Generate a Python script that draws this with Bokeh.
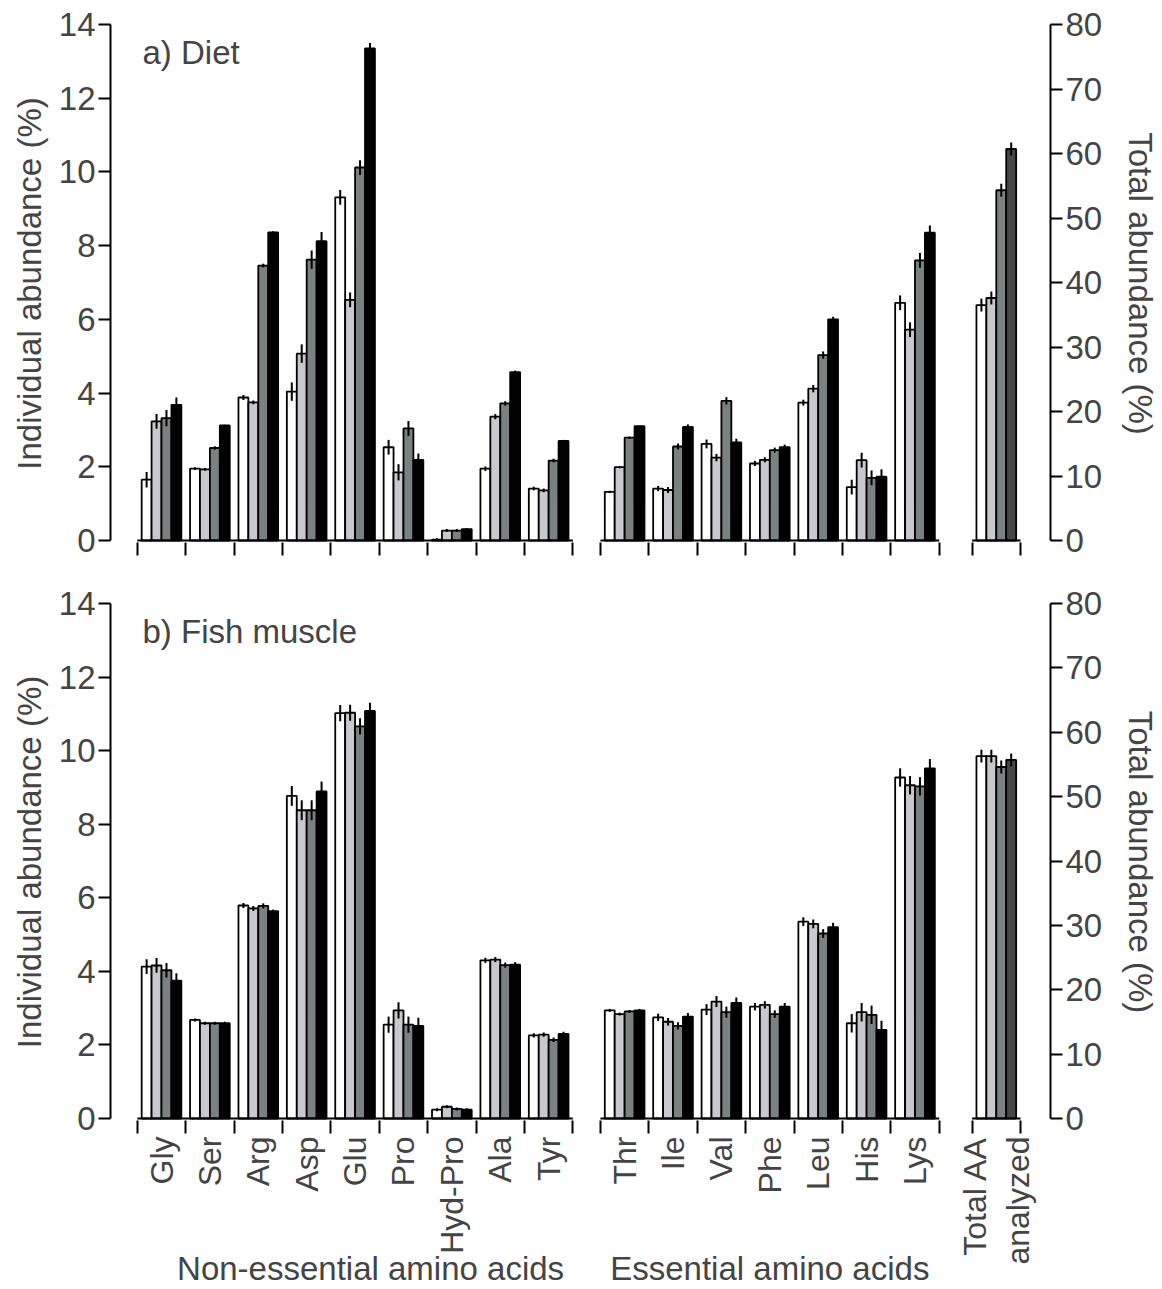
import math
from bokeh.plotting import figure
from bokeh.layouts import column
from bokeh.models import (ColumnDataSource, Range1d, LinearAxis, FixedTicker,
                          Label, CustomJSTickFormatter)
from bokeh.embed import file_html
from bokeh.resources import INLINE

# ---------------- data ----------------
nonessential = ["Gly", "Ser", "Arg", "Asp", "Glu", "Pro", "Hyd-Pro", "Ala", "Tyr"]
essential = ["Thr", "Ile", "Val", "Phe", "Leu", "His", "Lys"]
total_label = "Total AA\nanalyzed"
group_titles = ["Non-essential amino acids", "Essential amino acids"]
panel_titles = ["a) Diet", "b) Fish muscle"]

# individual abundance (%), order: nonessential + essential
diet_1 = [1.65, 1.95, 3.88, 4.04, 9.31, 2.53, 0.02, 1.95, 1.41,
          1.32, 1.41, 2.62, 2.09, 3.74, 1.45, 6.45]
diet_2 = [3.23, 1.93, 3.75, 5.07, 6.53, 1.85, 0.27, 3.36, 1.36,
          1.99, 1.37, 2.25, 2.19, 4.12, 2.18, 5.72]
diet_3 = [3.32, 2.51, 7.46, 7.62, 10.12, 3.04, 0.27, 3.72, 2.17,
          2.79, 2.55, 3.79, 2.45, 5.03, 1.70, 7.60]
diet_4 = [3.68, 3.12, 8.36, 8.12, 13.35, 2.19, 0.31, 4.57, 2.70,
          3.10, 3.08, 2.66, 2.53, 6.00, 1.73, 8.35]
diet_1_err = [0.21, 0.04, 0.07, 0.25, 0.20, 0.20, 0.04, 0.06, 0.05,
              0.03, 0.07, 0.12, 0.07, 0.08, 0.20, 0.20]
diet_2_err = [0.20, 0.04, 0.05, 0.25, 0.20, 0.22, 0.04, 0.07, 0.05,
              0.03, 0.08, 0.10, 0.07, 0.10, 0.20, 0.20]
diet_3_err = [0.22, 0.05, 0.05, 0.25, 0.20, 0.20, 0.04, 0.06, 0.05,
              0.03, 0.08, 0.10, 0.07, 0.10, 0.20, 0.20]
diet_4_err = [0.20, 0.02, 0.03, 0.25, 0.15, 0.17, 0.03, 0.04, 0.03,
              0.02, 0.07, 0.10, 0.07, 0.07, 0.20, 0.20]
diet_total = [36.5, 37.6, 54.3, 60.7]
diet_total_err = [1.0, 1.0, 1.0, 1.0]

fish_1 = [4.13, 2.68, 5.79, 8.77, 11.02, 2.55, 0.24, 4.30, 2.26,
          2.94, 2.75, 2.96, 3.04, 5.35, 2.59, 9.27]
fish_2 = [4.16, 2.59, 5.71, 8.38, 11.03, 2.94, 0.32, 4.32, 2.28,
          2.84, 2.63, 3.18, 3.09, 5.29, 2.89, 9.06]
fish_3 = [4.03, 2.59, 5.78, 8.38, 10.66, 2.55, 0.26, 4.17, 2.14,
          2.91, 2.52, 2.89, 2.84, 5.03, 2.82, 9.03]
fish_4 = [3.75, 2.59, 5.64, 8.89, 11.08, 2.52, 0.24, 4.18, 2.30,
          2.94, 2.77, 3.14, 3.04, 5.20, 2.41, 9.52]
fish_1_err = [0.20, 0.04, 0.07, 0.27, 0.22, 0.22, 0.04, 0.07, 0.06,
              0.04, 0.10, 0.15, 0.10, 0.12, 0.25, 0.25]
fish_2_err = [0.20, 0.04, 0.07, 0.27, 0.22, 0.22, 0.04, 0.07, 0.06,
              0.04, 0.10, 0.15, 0.10, 0.12, 0.25, 0.25]
fish_3_err = [0.20, 0.04, 0.07, 0.27, 0.22, 0.22, 0.04, 0.07, 0.06,
              0.04, 0.10, 0.15, 0.10, 0.12, 0.25, 0.25]
fish_4_err = [0.20, 0.04, 0.04, 0.27, 0.22, 0.22, 0.04, 0.07, 0.06,
              0.04, 0.10, 0.15, 0.10, 0.12, 0.25, 0.25]
fish_total = [56.3, 56.3, 54.6, 55.7]
fish_total_err = [1.0, 1.0, 1.0, 1.0]

series_colors = ["#ffffff", "#c8c9cd", "#7b8080", "#000000"]
total_colors = ["#ffffff", "#c8c9cd", "#7b8080", "#474747"]

left_ticks = [0, 2, 4, 6, 8, 10, 12, 14]
right_ticks = [0, 10, 20, 30, 40, 50, 60, 70, 80]

# ---------------- layout constants ----------------
FONT = "Liberation Sans"
W = 1162
GAP1 = 0.57
GAP2 = 0.68
BAR_W = 0.205
offsets = [(k - 1.5) * BAR_W for k in range(4)]

n_ne, n_e = len(nonessential), len(essential)
ess_start = n_ne + GAP1
starts = [float(i) for i in range(n_ne)] + [ess_start + j for j in range(n_e)]
centers = [s + 0.5 for s in starts]
total_start = ess_start + n_e + GAP2
total_center = total_start + 0.5
boundaries = ([float(i) for i in range(n_ne + 1)] +
              [ess_start + j for j in range(n_e + 1)] +
              [total_start, total_start + 1])
base_x0 = [0.0, ess_start, total_start]
base_x1 = [float(n_ne), ess_start + n_e, total_start + 1]
group_pos = [4.82, ess_start + n_e / 2]

YMAX = 14.0
YMIN = -0.054
TMAX = 80.0
TMIN = YMIN * TMAX / YMAX

LOOKUP = """
for (let i = 0; i < pos.length; i++) {
    if (Math.abs(pos[i] - tick) < 1e-6) { return names[i]; }
}
return "";
"""


def make_panel(series, errs, tot, tot_err, title, show_labels,
               height, mb_top, mb_bottom):
    p = figure(width=W, height=height, output_backend="svg",
               toolbar_location=None, tools="",
               x_range=Range1d(-0.554, 18.87),
               y_range=Range1d(YMIN, YMAX),
               min_border_left=110, min_border_right=112,
               min_border_top=mb_top, min_border_bottom=mb_bottom)
    p.extra_y_ranges = {"total": Range1d(TMIN, TMAX)}
    p.outline_line_color = None
    p.xgrid.visible = False
    p.ygrid.visible = False
    p.background_fill_color = "white"
    p.border_fill_color = "white"

    # bars
    for k in range(4):
        xs = [c + offsets[k] for c in centers]
        src = ColumnDataSource(dict(x=xs, top=series[k],
                                    lo=[v - e for v, e in zip(series[k], errs[k])],
                                    hi=[v + e for v, e in zip(series[k], errs[k])]))
        p.vbar(x="x", top="top", bottom=0, width=BAR_W, source=src,
               fill_color=series_colors[k], line_color="black", line_width=1.8)
        p.segment(x0="x", y0="lo", x1="x", y1="hi", source=src,
                  line_color="black", line_width=2)
    # total bars on right axis
    tsrc = ColumnDataSource(dict(x=[total_center + o for o in offsets], top=tot,
                                 lo=[v - e for v, e in zip(tot, tot_err)],
                                 hi=[v + e for v, e in zip(tot, tot_err)],
                                 color=total_colors))
    p.vbar(x="x", top="top", bottom=0, width=BAR_W, source=tsrc,
           fill_color="color", line_color="black", line_width=1.8,
           y_range_name="total")
    p.segment(x0="x", y0="lo", x1="x", y1="hi", source=tsrc,
              line_color="black", line_width=2, y_range_name="total")

    # baseline segments (x-axis line, broken between blocks)
    p.segment(x0=base_x0, y0=[0, 0, 0], x1=base_x1, y1=[0, 0, 0],
              line_color="black", line_width=2)

    # left axis
    ya = p.yaxis[0]
    ya.ticker = FixedTicker(ticks=left_ticks)
    ya.bounds = (0, YMAX)
    ya.axis_label = "Individual abundance (%)"
    ya.axis_label_text_font = FONT
    ya.axis_label_text_font_size = "33px"
    ya.axis_label_text_font_style = "normal"
    ya.axis_label_standoff = 8
    ya.major_label_text_font = FONT
    ya.major_label_text_font_size = "33px"
    ya.major_label_standoff = 3
    ya.major_tick_out = 12
    ya.major_tick_in = 0
    ya.minor_tick_out = 0
    ya.minor_tick_in = 0
    ya.axis_line_width = 2
    ya.major_tick_line_width = 2

    # right axis
    ra = LinearAxis(y_range_name="total", ticker=FixedTicker(ticks=right_ticks),
                    bounds=(0, TMAX))
    ra.axis_label = "Total abundance (%)"
    ra.axis_label_text_font = FONT
    ra.axis_label_text_font_size = "33px"
    ra.axis_label_text_font_style = "normal"
    ra.axis_label_standoff = 17
    ra.major_label_text_font = FONT
    ra.major_label_text_font_size = "33px"
    ra.major_label_standoff = 3
    ra.major_tick_out = 12
    ra.major_tick_in = 0
    ra.minor_tick_out = 0
    ra.minor_tick_in = 0
    ra.axis_line_width = 2
    ra.major_tick_line_width = 2
    p.add_layout(ra, "right")

    # bottom axis: labels at group centres, tick marks at group boundaries
    xa = p.xaxis[0]
    xa.axis_line_color = None
    xa.major_tick_out = 0
    xa.major_tick_in = 0
    xa.minor_tick_out = 13
    xa.minor_tick_in = 0
    xa.minor_tick_line_width = 2
    xa.minor_tick_line_color = "black"
    if show_labels:
        tick_pos = centers + [total_center]
        names = nonessential + essential + [total_label]
        xa.ticker = FixedTicker(ticks=tick_pos, minor_ticks=boundaries)
        xa.formatter = CustomJSTickFormatter(
            args=dict(pos=tick_pos, names=names), code=LOOKUP)
        xa.major_label_orientation = math.pi / 2
        xa.major_label_text_font = FONT
        xa.major_label_text_font_size = "32px"
        xa.major_label_standoff = 3

        # second axis below: amino-acid group names
        ga = LinearAxis(ticker=FixedTicker(ticks=group_pos),
                        formatter=CustomJSTickFormatter(
                            args=dict(pos=group_pos, names=group_titles),
                            code=LOOKUP))
        ga.axis_line_color = None
        ga.major_tick_line_color = None
        ga.minor_tick_line_color = None
        ga.major_tick_out = 0
        ga.major_tick_in = 0
        ga.minor_tick_out = 0
        ga.minor_tick_in = 0
        ga.major_label_standoff = -18
        ga.major_label_text_font = FONT
        ga.major_label_text_font_size = "33px"
        p.add_layout(ga, "below")
    else:
        xa.ticker = FixedTicker(ticks=[], minor_ticks=boundaries)
        xa.major_label_text_font_size = "0px"

    # panel title
    p.add_layout(Label(x=0.107, y=13.25, text=title, text_font=FONT,
                       text_font_size="33px", text_align="left",
                       text_baseline="alphabetic"))
    return p


top = make_panel([diet_1, diet_2, diet_3, diet_4],
                 [diet_1_err, diet_2_err, diet_3_err, diet_4_err],
                 diet_total, diet_total_err, panel_titles[0], False,
                 height=578, mb_top=24, mb_bottom=36)
bottom = make_panel([fish_1, fish_2, fish_3, fish_4],
                    [fish_1_err, fish_2_err, fish_3_err, fish_4_err],
                    fish_total, fish_total_err, panel_titles[1], True,
                    height=711, mb_top=25, mb_bottom=168)

layout = column(top, bottom, spacing=0)
open("out.html", "w").write(file_html(layout, INLINE))
